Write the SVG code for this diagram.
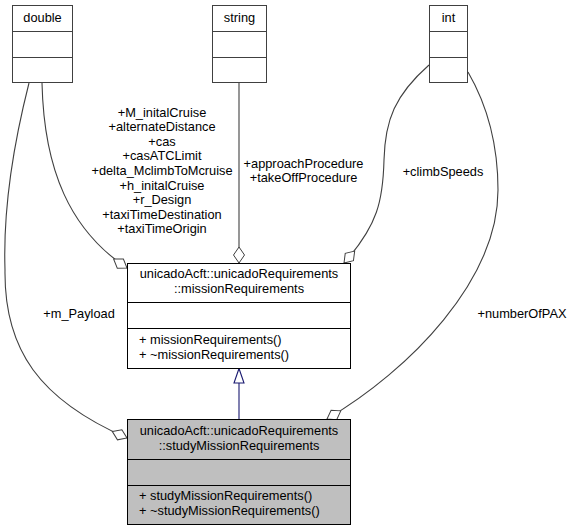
<svg xmlns="http://www.w3.org/2000/svg" width="571" height="531" viewBox="0 0 571 531">
<style>
text{font-family:"Liberation Sans",Arial,sans-serif;font-size:12.8px;fill:#000}
.c{text-anchor:middle}
.box{fill:#fff;stroke:#404040;stroke-width:1}
.main{fill:#fff;stroke:#000;stroke-width:1}
.cur{fill:#bfbfbf;stroke:#000;stroke-width:1}
.e{fill:none;stroke:#404040;stroke-width:1.1}
.inh{fill:none;stroke:#191970;stroke-width:1.1}
</style>
<defs>
<marker id="dia" markerUnits="userSpaceOnUse" markerWidth="18" markerHeight="14" refX="16" refY="6" orient="auto" overflow="visible">
<path d="M0,6 L8,0.5 L16,6 L8,11.5 Z" fill="#fff" stroke="#404040" stroke-width="1"/>
</marker>
</defs>
<rect width="571" height="531" fill="#fff"/>
<g id="connectors">
<path class="e" d="M29,83 C12,150 3,210 5,270 C4,350 40,400 127,438" marker-end="url(#dia)"/>
<path class="e" d="M42,83 C44,170 70,230 127,268" marker-end="url(#dia)"/>
<path class="e" d="M239,82 L239,263" marker-end="url(#dia)"/>
<path class="e" d="M429,65 C395,95 385,120 384,160 C383,200 378,225 344,263" marker-end="url(#dia)"/>
<path class="e" d="M468,72 C490,110 498,150 498,190 C498,280 410,370 327,419" marker-end="url(#dia)"/>
<path class="inh" d="M239,419 L239,383"/>
<polygon class="inh" points="239,368.5 234,383 244,383" fill="#fff"/>
<text class="c" x="79" y="318">+m_Payload</text>
<text class="c" x="522" y="318">+numberOfPAX</text>
<text class="c" x="443" y="176">+climbSpeeds</text>
<text class="c" x="303.5" y="167.5">+approachProcedure</text>
<text class="c" x="303.5" y="181.5">+takeOffProcedure</text>
<text class="c" x="162" y="116.5">+M_initalCruise</text>
<text class="c" x="162" y="131">+alternateDistance</text>
<text class="c" x="162" y="145.5">+cas</text>
<text class="c" x="162" y="160">+casATCLimit</text>
<text class="c" x="162" y="175">+delta_MclimbToMcruise</text>
<text class="c" x="162" y="189.5">+h_initalCruise</text>
<text class="c" x="162" y="204">+r_Design</text>
<text class="c" x="162" y="218.5">+taxiTimeDestination</text>
<text class="c" x="162" y="233">+taxiTimeOrigin</text>
</g>
<g id="double">
<rect class="box" x="12.5" y="5.5" width="60" height="77"/>
<line class="box" x1="12.5" y1="31.5" x2="72.5" y2="31.5"/>
<line class="box" x1="12.5" y1="57.5" x2="72.5" y2="57.5"/>
<text class="c" x="42.5" y="22">double</text>
</g>
<g id="string">
<rect class="box" x="212.5" y="5.5" width="54" height="77"/>
<line class="box" x1="212.5" y1="31.5" x2="266.5" y2="31.5"/>
<line class="box" x1="212.5" y1="57.5" x2="266.5" y2="57.5"/>
<text class="c" x="239.5" y="22">string</text>
</g>
<g id="int">
<rect class="box" x="429.5" y="5.5" width="38" height="77"/>
<line class="box" x1="429.5" y1="31.5" x2="467.5" y2="31.5"/>
<line class="box" x1="429.5" y1="57.5" x2="467.5" y2="57.5"/>
<text class="c" x="448.5" y="22">int</text>
</g>
<g id="missionRequirements">
<rect class="main" x="127.5" y="263.5" width="223" height="105"/>
<line class="main" x1="127.5" y1="302.5" x2="350.5" y2="302.5"/>
<line class="main" x1="127.5" y1="328.5" x2="350.5" y2="328.5"/>
<text class="c" x="239" y="277.5">unicadoAcft::unicadoRequirements</text>
<text class="c" x="239" y="293">::missionRequirements</text>
<text x="139" y="344">+ missionRequirements()</text>
<text x="139" y="359">+ ~missionRequirements()</text>
</g>
<g id="studyMissionRequirements">
<rect class="cur" x="127.5" y="419.5" width="223" height="105"/>
<line class="cur" x1="127.5" y1="459.5" x2="350.5" y2="459.5"/>
<line class="cur" x1="127.5" y1="485.5" x2="350.5" y2="485.5"/>
<text class="c" x="239" y="435">unicadoAcft::unicadoRequirements</text>
<text class="c" x="239" y="450">::studyMissionRequirements</text>
<text x="139" y="500">+ studyMissionRequirements()</text>
<text x="139" y="514.5">+ ~studyMissionRequirements()</text>
</g>
</svg>
